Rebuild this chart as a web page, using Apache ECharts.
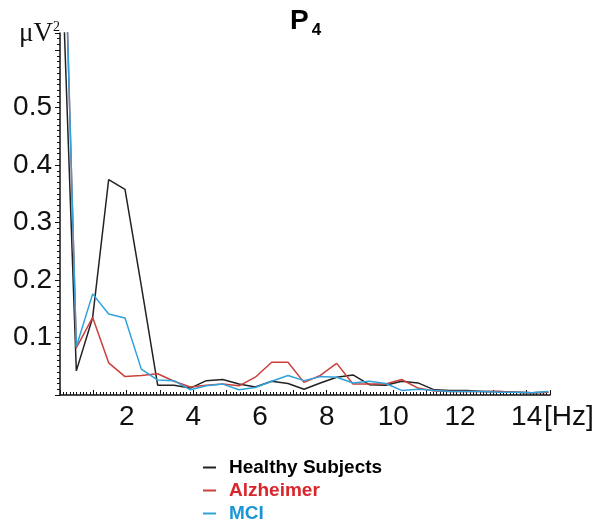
<!DOCTYPE html>
<html>
<head>
<meta charset="utf-8">
<script src="https://cdn.jsdelivr.net/npm/echarts@6/dist/echarts.min.js"></script>
<style>html,body{margin:0;padding:0;background:#fff}#c{width:606px;height:525px}</style>
</head>
<body>
<div id="c"></div>
<script>
// Frequency bins (Hz)
var freqs = [0, 0.49, 0.98, 1.46, 1.95, 2.44, 2.93, 3.42, 3.91, 4.39, 4.88, 5.37, 5.86, 6.35, 6.84, 7.32, 7.81, 8.30, 8.79, 9.28, 9.77, 10.25, 10.74, 11.23, 11.72, 12.21, 12.70, 13.18, 13.67, 14.16, 14.65];
// Power (μV²) per group
var healthy = [0.85, 0.042, 0.135, 0.375, 0.358, 0.19, 0.017, 0.017, 0.012, 0.025, 0.027, 0.019, 0.014, 0.024, 0.020, 0.010, 0.021, 0.031, 0.035, 0.018, 0.017, 0.024, 0.021, 0.009, 0.008, 0.008, 0.006, 0.006, 0.005, 0.004, 0.005];
var alzheimer = [1.1, 0.082, 0.135, 0.056, 0.032, 0.034, 0.037, 0.024, 0.014, 0.017, 0.019, 0.016, 0.031, 0.057, 0.057, 0.022, 0.034, 0.055, 0.019, 0.019, 0.019, 0.027, 0.012, 0.007, 0.006, 0.006, 0.006, 0.006, 0.005, 0.004, 0.005];
var mci = [1.1, 0.084, 0.176, 0.141, 0.134, 0.045, 0.026, 0.025, 0.009, 0.016, 0.019, 0.009, 0.013, 0.024, 0.034, 0.025, 0.032, 0.031, 0.021, 0.024, 0.020, 0.008, 0.010, 0.008, 0.006, 0.006, 0.006, 0.005, 0.005, 0.004, 0.006];
var seriesNames = ['Healthy Subjects', 'Alzheimer', 'MCI'];
var xTickLabels = [2, 4, 6, 8, 10, 12, 14];
var yTickLabels = [0.1, 0.2, 0.3, 0.4, 0.5];

function pairs(vals) { return freqs.map(function (f, i) { return [f, vals[i]]; }); }

var lineColors = ['#222222', '#c9403d', '#2fa2dc'];
var textColors = ['#000000', '#d9262b', '#1a96d4'];

var chart = echarts.init(document.getElementById('c'), null, {renderer: 'canvas'});
chart.setOption({
  animation: false,
  backgroundColor: '#ffffff',
  title: {
    text: '{p|P}{s|4}',
    left: 290, top: 11, padding: 0,
    textStyle: {
      rich: {
        p: {fontFamily: 'Liberation Sans', fontWeight: 'bold', fontSize: 28, lineHeight: 28, color: '#000', padding: [0, 0, 7, 0]},
        s: {fontFamily: 'Liberation Sans', fontWeight: 'bold', fontSize: 17, lineHeight: 17, color: '#000', verticalAlign: 'bottom', padding: [0, 0, 0, 3]}
      }
    }
  },
  grid: {left: 60, right: 56, top: 33, bottom: 130, containLabel: false},
  legend: {
    orient: 'vertical',
    left: 203, top: 458, padding: 0,
    itemWidth: 13, itemHeight: 2, itemGap: 4,
    icon: 'rect',
    data: seriesNames.map(function (n, i) {
      return {name: n, textStyle: {color: textColors[i]}};
    }),
    textStyle: {fontFamily: 'Liberation Sans', fontWeight: 'bold', fontSize: 19, padding: [0, 0, 0, 8]}
  },
  xAxis: {
    type: 'value', min: 0, max: 14.7, interval: 1,
    name: '[Hz]', nameLocation: 'end', nameGap: -6, nameMoveOverlap: false,
    nameTextStyle: {fontFamily: 'Liberation Sans', fontSize: 28, color: '#111', align: 'left', verticalAlign: 'top', padding: [8, 0, 0, 0]},
    axisLine: {show: true, onZero: false, lineStyle: {color: '#111', width: 1.5}},
    axisTick: {show: true, inside: true, length: 5, lineStyle: {color: '#111'}},
    minorTick: {show: true, splitNumber: 10, length: 3, lineStyle: {color: '#111'}},
    splitLine: {show: false},
    axisLabel: {
      margin: 8, fontFamily: 'Liberation Sans', fontSize: 28, color: '#111',
      formatter: function (v) { return xTickLabels.indexOf(Math.round(v * 100) / 100) >= 0 ? String(v) : ''; }
    }
  },
  yAxis: {
    type: 'value', min: 0, max: 0.63, interval: 0.1,
    name: '{m|μV}{s|2}', nameLocation: 'end', nameGap: -1, nameMoveOverlap: false,
    nameTextStyle: {
      align: 'right', verticalAlign: 'middle', padding: [0, 0, 0, 0],
      rich: {
        m: {fontFamily: 'Liberation Serif', fontSize: 27, color: '#111'},
        s: {fontFamily: 'Liberation Serif', fontSize: 14, color: '#111', verticalAlign: 'top'}
      }
    },
    axisLine: {show: true, onZero: false, lineStyle: {color: '#111', width: 1.5}},
    axisTick: {show: true, inside: false, length: 5, lineStyle: {color: '#111'}},
    minorTick: {show: true, splitNumber: 10, length: 3, lineStyle: {color: '#111'}},
    splitLine: {show: false},
    axisLabel: {
      margin: 8, fontFamily: 'Liberation Sans', fontSize: 28, color: '#111',
      formatter: function (v) {
        var r = Math.round(v * 10) / 10;
        return yTickLabels.indexOf(r) >= 0 && Math.abs(v - r) < 1e-6 ? r.toFixed(1) : '';
      }
    }
  },
  series: [
    {name: seriesNames[0], type: 'line', data: pairs(healthy), showSymbol: false, symbol: 'none', clip: true, lineStyle: {color: lineColors[0], width: 1.5}, itemStyle: {color: lineColors[0]}, z: 2},
    {name: seriesNames[1], type: 'line', data: pairs(alzheimer), showSymbol: false, symbol: 'none', clip: true, lineStyle: {color: lineColors[1], width: 1.5}, itemStyle: {color: lineColors[1]}, z: 3},
    {name: seriesNames[2], type: 'line', data: pairs(mci), showSymbol: false, symbol: 'none', clip: true, lineStyle: {color: lineColors[2], width: 1.5}, itemStyle: {color: lineColors[2]}, z: 4}
  ]
});
</script>
</body>
</html>
